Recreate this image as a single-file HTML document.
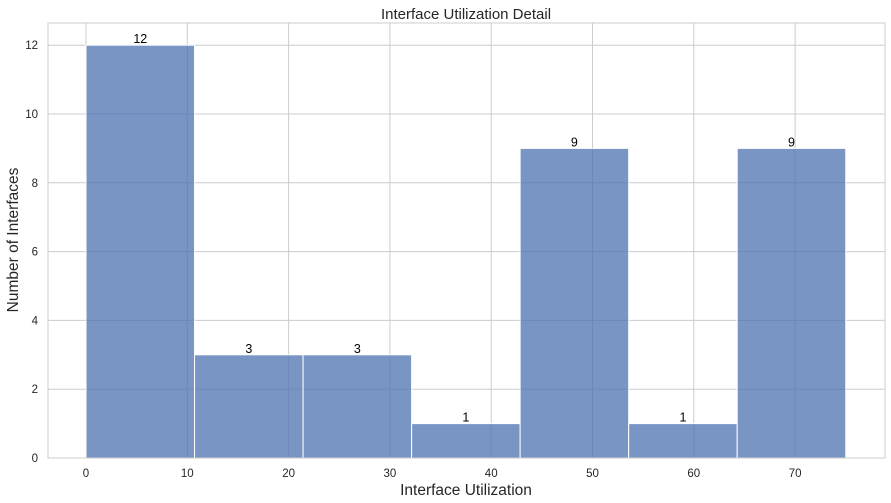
<!DOCTYPE html>
<html><head><meta charset="utf-8"><style>
body{margin:0;background:#fff;}
svg{display:block;font-family:"Liberation Sans",Arial,sans-serif;}
</style></head><body>
<svg id="chart" width="891" height="503" viewBox="0 0 891 503">
<rect x="0" y="0" width="891" height="503" fill="#fff"/>
<g id="grid"></g>
<g id="bars"></g>
<rect x="48" y="23" width="837" height="435" fill="none" stroke="#cccccc" stroke-width="1"/>
<g id="labels"></g>
<text x="466" y="19" text-anchor="middle" font-size="15" fill="#262626">Interface Utilization Detail</text>
<text x="466" y="495" text-anchor="middle" font-size="15.5" fill="#262626">Interface Utilization</text>
<text transform="translate(18,240) rotate(-90)" text-anchor="middle" font-size="15.5" fill="#262626">Number of Interfaces</text>
</svg>
<script>
const binEdges=[0,10.714,21.429,32.143,42.857,53.571,64.286,75];
const counts=[12,3,3,1,9,1,9];
const xTicks=[0,10,20,30,40,50,60,70];
const yTicks=[0,2,4,6,8,10,12];
const NS="http://www.w3.org/2000/svg";
const X=v=>86+v*10.13;
const Y=v=>458-v*34.4;
function mk(t,a,p){const e=document.createElementNS(NS,t);for(const k in a)e.setAttribute(k,a[k]);p.appendChild(e);return e;}
const grid=document.getElementById('grid'),bars=document.getElementById('bars'),lab=document.getElementById('labels');
xTicks.forEach(t=>{
 const l=mk('line',{x1:X(t),x2:X(t),y1:23,y2:458,stroke:'#cccccc','stroke-width':1},grid);
 
 
 const tx=mk('text',{x:X(t),y:477,'text-anchor':'middle','font-size':11.5,fill:'#262626'},lab);
 tx.textContent=t;
 
 
});
yTicks.forEach(t=>{
 const l=mk('line',{x1:48,x2:885,y1:Y(t),y2:Y(t),stroke:'#cccccc','stroke-width':1},grid);
 
 
 const tx=mk('text',{x:38,y:Y(t)+4,'text-anchor':'end','font-size':11.5,fill:'#262626'},lab);
 tx.textContent=t;
 
 
});
counts.forEach((c,i)=>{
 const x0=X(binEdges[i]),x1=X(binEdges[i+1]);
 const r=mk('rect',{x:x0,y:Y(c),width:x1-x0,height:Y(0)-Y(c),fill:'#4c72b0','fill-opacity':0.75,stroke:'#ffffff','stroke-width':1},bars);
 
 
 const t=mk('text',{x:(x0+x1)/2,y:Y(c)-2,'text-anchor':'middle','font-size':12.5,fill:'#000'},lab);
 t.textContent=c;
 
 
});
</script>
</body></html>
